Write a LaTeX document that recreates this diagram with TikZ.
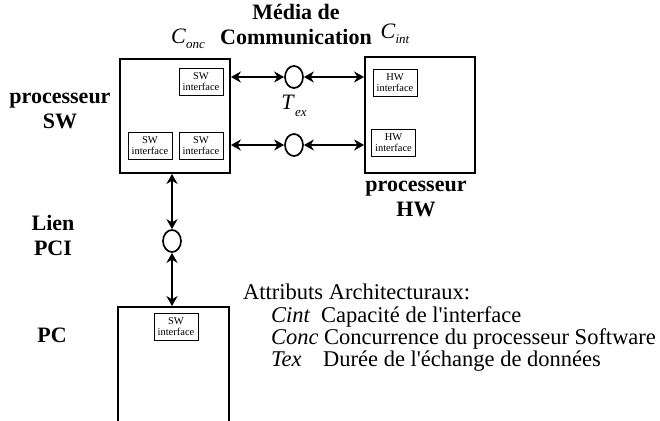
\documentclass[tikz,border=0pt]{standalone}
\usepackage{fontspec}
\setmainfont{Liberation Serif}
\usepackage{tikz}
\usetikzlibrary{arrows.meta,shapes.geometric}

\tikzset{
  proc/.style={draw, line width=1.8pt, minimum width=110pt, inner sep=0pt},
  iface/.style={draw, line width=0.6pt, minimum width=44pt, minimum height=27pt,
    inner sep=0pt, align=center, font=\fontsize{10.5}{11}\selectfont},
  link/.style={draw, ellipse, line width=1.7pt, minimum width=18pt,
    minimum height=22pt, inner sep=0pt},
  conn/.style={line width=2pt, {Stealth[length=10pt,width=11pt]}-{Stealth[length=10pt,width=11pt]}},
  blbl/.style={align=center, inner sep=0pt, font=\fontsize{22}{25}\selectfont\bfseries},
  txt/.style={inner sep=0pt, anchor=base west, font=\fontsize{22.5}{22.5}\selectfont}
}

\begin{document}
\begin{tikzpicture}[x=1pt,y=-1pt]
  \useasboundingbox (0,0) rectangle (660,420);
  % processors
  \node[proc, minimum height=114pt] (sw) at (175,116) {};
  \node[proc, minimum height=116pt] (hw) at (420,115) {};
  \node[proc, minimum width=111pt, minimum height=140pt] (pc) at (173.5,377) {};
  % interfaces
  \node[iface] (swA) at (201,81.5) {SW\\interface};
  \node[iface] (swB) at (150,145.5) {SW\\interface};
  \node[iface] (swC) at (201,145.5) {SW\\interface};
  \node[iface] (hwA) at (395,82.5) {HW\\interface};
  \node[iface] (hwB) at (393.5,142.5) {HW\\interface};
  \node[iface] (pcA) at (176,327) {SW\\interface};
  % links
  \node[link] (mT) at (294,77) {};
  \node[link] (mB) at (294,145) {};
  \node[link] (pci) at (172,241) {};
  \draw[conn] (sw.east |- mT) -- (mT);
  \draw[conn] (mT) -- (mT -| hw.west);
  \draw[conn] (sw.east |- mB) -- (mB);
  \draw[conn] (mB) -- (mB -| hw.west);
  \draw[conn] (pci |- sw.south) -- (pci);
  \draw[conn] (pci) -- (pci |- pc.north);
  % labels
  \node[blbl] (media) at (296,24) {Média de\\Communication};
  \node[blbl] (psw) at (60,111) {processeur\\SW};
  \node[blbl] (phw) at (416,199) {processeur\\HW};
  \node[blbl] (lien) at (53,235) {Lien\\PCI};
  \node[blbl] (pcl) at (52,335) {PC};
  \node[inner sep=0pt, font=\fontsize{22}{22}\selectfont] (conc) at (188,39)
    {\textit{C}\raisebox{-0.5ex}{\fontsize{13}{13}\selectfont\itshape onc}};
  \node[inner sep=0pt, font=\fontsize{22}{22}\selectfont] (cint) at (395,34)
    {\textit{C}\raisebox{-0.5ex}{\fontsize{13}{13}\selectfont\itshape int}};
  \node[inner sep=0pt, font=\fontsize{22}{22}\selectfont] (tex) at (294,106)
    {\textit{T}\raisebox{-0.7ex}{\fontsize{13}{13}\selectfont\itshape ex}};
  % attributes
  \node[txt] (attr) at (243,299) {Attributs Architecturaux:};
  \node[txt] (k1) at (271,322) {\textit{Cint}};
  \node[txt] (d1) at (321,322) {Capacité de l\textquotesingle interface};
  \node[txt] (k2) at (271,344) {\textit{Conc}};
  \node[txt] (d2) at (324,344) {Concurrence du processeur Software};
  \node[txt] (k3) at (271,366) {\textit{Tex}};
  \node[txt] (d3) at (323,366) {Durée de l\textquotesingle échange de données};
\end{tikzpicture}
\end{document}
